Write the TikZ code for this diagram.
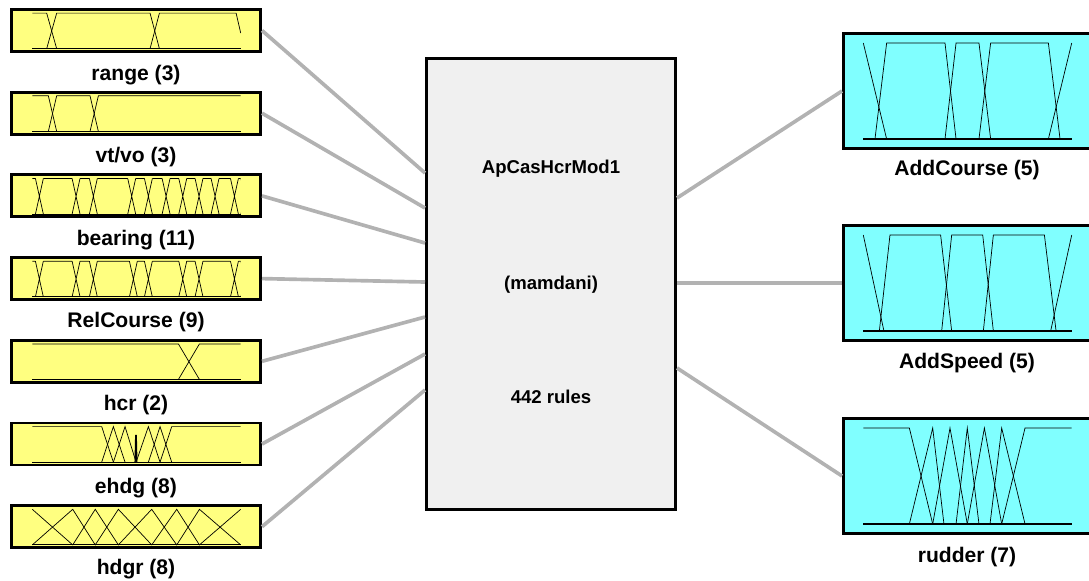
\documentclass[tikz,border=0pt]{standalone}
\usepackage{fontspec}
\setmainfont{Liberation Sans}
\usepackage{tikz}
\usetikzlibrary{positioning, calc}
\definecolor{fisyellow}{HTML}{FFFF80}
\definecolor{fiscyan}{HTML}{80FFFF}
\definecolor{fisgrey}{HTML}{F0F0F0}
\definecolor{fiswire}{HTML}{B2B2B2}

% overlapping trapezoids: crossing points and half width of the slopes
\newcommand\mfcross[2]{%
  \clip (0,-0.2) rectangle (1,1.2);
  \foreach \c [remember=\c as \p (initially -#1)] in {#2,1+#1}
    \draw (\p+#1,1) -- (\c-#1,1) (\c-#1,1) -- (\c+#1,0) (\c-#1,0) -- (\c+#1,1);
}

\tikzset{
  varin/.style={draw=black, line width=2.1pt, fill=fisyellow, minimum width=6.225cm, minimum height=1.05cm, inner sep=0pt},
  varout/.style={draw=black, line width=2.1pt, fill=fiscyan, minimum width=6.175cm, minimum height=2.875cm, inner sep=0pt},
  fisbox/.style={draw=black, line width=2.1pt, fill=fisgrey, minimum width=6.225cm, minimum height=11.275cm, inner sep=0pt},
  varname/.style={font=\fontsize{15}{17}\selectfont\bfseries, inner sep=0pt},
  fistext/.style={font=\fontsize{13.2}{15}\selectfont\bfseries, inner sep=0pt},
  wire/.style={draw=fiswire, line width=2.6pt},
  mf/.style={line width=0.5pt},
  inplot/.style={shift={(-103.7,18.2)}, xscale=208.4, yscale=-35.6},
  outplot/.style={shift={(-103.7,48)}, xscale=208.4, yscale=-96},
}

\begin{document}
\begin{tikzpicture}[x=0.025cm, y=-0.025cm]
\useasboundingbox (0,0) rectangle (1089,580);

% input variables
\node[varin] (range)     at (136,30.5)  {};
\node[varin] (vtvo)      at (136,113.2) {};
\node[varin] (bearing)   at (136,195.9) {};
\node[varin] (relcourse) at (136,278.6) {};
\node[varin] (hcr)       at (136,361.3) {};
\node[varin] (ehdg)      at (136,444)   {};
\node[varin] (hdgr)      at (136,526.7) {};
\node[varname] (range-lbl)     at (136,75.5)  {range (3)};
\node[varname] (vtvo-lbl)      at (136,157.5) {vt/vo (3)};
\node[varname] (bearing-lbl)   at (136,240.5) {bearing (11)};
\node[varname] (relcourse-lbl) at (136,322.5) {RelCourse (9)};
\node[varname] (hcr-lbl)       at (136,405.5) {hcr (2)};
\node[varname] (ehdg-lbl)      at (136,488.5) {ehdg (8)};
\node[varname] (hdgr-lbl)      at (136,569.5) {hdgr (8)};

% rule block
\node[fisbox] (fis) at (551,284) {};
\node[fistext] (fis-name)  at (551,169) {ApCasHcrMod1};
\node[fistext] (fis-type)  at (551,285) {(mamdani)};
\node[fistext] (fis-rules) at (551,397) {442 rules};

% output variables
\node[varout] (addcourse) at (967,91)  {};
\node[varout] (addspeed)  at (967,283) {};
\node[varout] (rudder)    at (967,476) {};
\node[varname] (addcourse-lbl) at (967,170.5) {AddCourse (5)};
\node[varname] (addspeed-lbl)  at (967,363.5) {AddSpeed (5)};
\node[varname] (rudder-lbl)    at (967,557.5) {rudder (7)};

% wires
\coordinate (in1) at (425,173);
\coordinate (in2) at (425,208);
\coordinate (in3) at (425,243);
\coordinate (in4) at (425,282);
\coordinate (in5) at (425,317);
\coordinate (in6) at (425,354);
\coordinate (in7) at (425,390);
\coordinate (out1) at (677,198);
\coordinate (out2) at (677,283);
\coordinate (out3) at (677,368);
\draw[wire] (range.east) -- (in1);
\draw[wire] (vtvo.east) -- (in2);
\draw[wire] (bearing.east) -- (in3);
\draw[wire] (relcourse.east) -- (in4);
\draw[wire] (hcr.east) -- (in5);
\draw[wire] (ehdg.east) -- (in6);
\draw[wire] (hdgr.east) -- (in7);
\draw[wire] (out1) -- (addcourse.west);
\draw[wire] (out2) -- (addspeed.west);
\draw[wire] (out3) -- (rudder.west);

% membership functions, inputs
\begin{scope}[shift={(range.center)}, inplot, mf]
  \draw[line width=0.8pt] (0,0) -- (1,0);
  \draw (0,1) -- (0.069,1) -- (0.117,0);
  \draw (0.069,0) -- (0.117,1) -- (0.565,1) -- (0.610,0);
  \draw (0.565,0) -- (0.610,1) -- (0.978,1) -- (1,0.44);
\end{scope}
\begin{scope}[shift={(vtvo.center)}, inplot, mf]
  \draw[line width=0.8pt] (0,0) -- (1,0);
  \draw (0,1) -- (0.077,1) -- (0.117,0);
  \draw (0.077,0) -- (0.117,1) -- (0.277,1) -- (0.317,0);
  \draw (0.277,0) -- (0.317,1) -- (1,1);
\end{scope}
\begin{scope}[shift={(bearing.center)}, inplot, mf]
  \draw[line width=0.8pt] (0,0) -- (1,0);
  \mfcross{0.019}{0.034,0.210,0.293,0.477,0.557,0.642,0.722,0.800,0.877,0.970}
\end{scope}
\begin{scope}[shift={(relcourse.center)}, inplot, mf]
  \draw[line width=0.8pt] (0,0) -- (1,0);
  \mfcross{0.019}{0.034,0.210,0.293,0.485,0.557,0.722,0.800,0.970}
\end{scope}
\begin{scope}[shift={(hcr.center)}, inplot, mf]
  \draw[line width=0.8pt] (0,0) -- (1,0);
  \draw (0,1) -- (0.701,1) -- (0.802,0);
  \draw (0.701,0) -- (0.802,1) -- (1,1);
\end{scope}
\begin{scope}[shift={(ehdg.center)}, inplot, mf]
  \draw[line width=0.8pt] (0,0) -- (1,0);
  \draw (0,1) -- (0.333,1) -- (0.389,0);
  \draw (0.333,0) -- (0.389,1) -- (0.445,0);
  \draw (0.389,0) -- (0.445,1) -- (0.498,0);
  \draw (0.492,0) -- (0.495,0.77) -- (0.498,0);
  \draw (0.497,0) -- (0.500,0.77) -- (0.503,0);
  \draw (0.498,0) -- (0.557,1) -- (0.613,0);
  \draw (0.557,0) -- (0.613,1) -- (0.669,0);
  \draw (0.613,0) -- (0.669,1) -- (1,1);
\end{scope}
\begin{scope}[shift={(hdgr.center)}, inplot, mf]
  \draw[line width=0.8pt] (0,0) -- (1,0);
  \draw (0,1) -- (0.194,0) -- (0.302,1) -- (0.413,0) -- (0.573,1) -- (0.693,0) -- (0.802,1) -- (1,0);
  \draw (0,0) -- (0.194,1) -- (0.302,0) -- (0.413,1) -- (0.573,0) -- (0.693,1) -- (0.802,0) -- (1,1);
\end{scope}

% membership functions, outputs
\begin{scope}[shift={(addcourse.center)}, outplot, mf]
  \draw[line width=1.1pt] (0,0) -- (1,0);
  \draw (0,1) -- (0.112,0);
  \draw (0.056,0) -- (0.112,1) -- (0.392,1) -- (0.445,0);
  \draw (0.392,0) -- (0.445,1) -- (0.555,1) -- (0.611,0);
  \draw (0.555,0) -- (0.611,1) -- (0.888,1) -- (0.944,0);
  \draw (0.888,0) -- (1,1);
\end{scope}
\begin{scope}[shift={(addspeed.center)}, outplot, mf]
  \draw[line width=1.1pt] (0,0) -- (1,0);
  \draw (0,1) -- (0.099,0);
  \draw (0.077,0) -- (0.128,1) -- (0.371,1) -- (0.424,0);
  \draw (0.376,0) -- (0.424,1) -- (0.573,1) -- (0.624,0);
  \draw (0.576,0) -- (0.624,1) -- (0.869,1) -- (0.925,0);
  \draw (0.899,0) -- (1,1);
\end{scope}
\begin{scope}[shift={(rudder.center)}, outplot, mf]
  \draw[line width=1.1pt] (0,0) -- (1,0);
  \draw (0,1) -- (0.221,1) -- (0.333,0);
  \draw (0.221,0) -- (0.333,1) -- (0.387,0);
  \draw (0.333,0) -- (0.416,1) -- (0.499,0);
  \draw (0.445,0) -- (0.499,1) -- (0.555,0);
  \draw (0.499,0) -- (0.581,1) -- (0.664,0);
  \draw (0.608,0) -- (0.664,1) -- (0.776,0);
  \draw (0.664,0) -- (0.776,1) -- (1,1);
\end{scope}
\end{tikzpicture}
\end{document}
